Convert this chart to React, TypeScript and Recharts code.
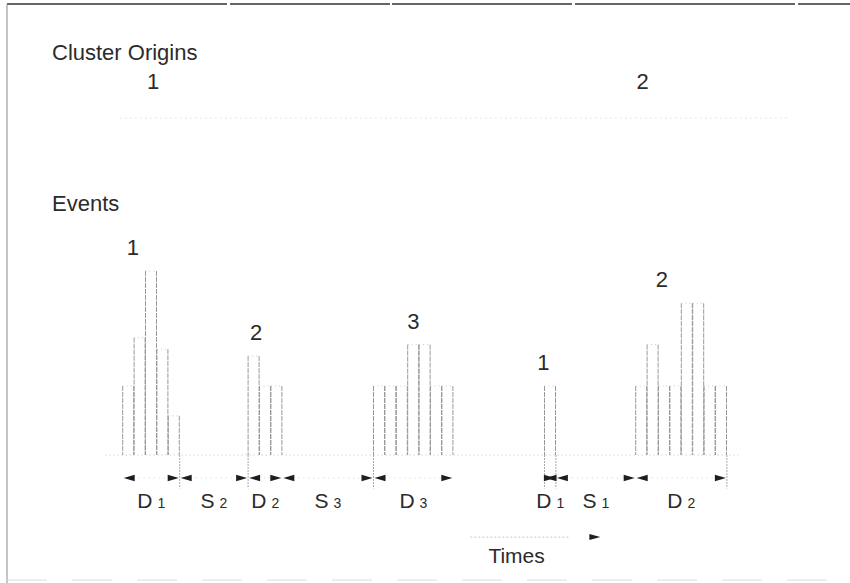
import React from "react";
import { ComposedChart, XAxis, YAxis, Bar, Scatter, ReferenceLine } from "recharts";

// Cluster origins on the upper time line.
const originNames = ["1", "2"];
const originTimes = [2.66, 45.6];

// Event clusters: first time step, height of each step, where the number sits.
const clusterNames = ["1", "2", "3", "1", "2"];
const clusterStarts = [0, 11, 22, 37, 45];
const clusterHeights = [
  [3, 5.1, 8, 4.6, 1.7],
  [4.3, 3, 3],
  [3, 3, 3, 4.8, 4.8, 3, 3],
  [3],
  [3, 4.8, 3, 3, 6.6, 6.6, 3, 3],
];
const clusterLabelTimes = [0.9, 11.7, 25.5, 36.9, 47.3];

// Durations (D) and separations (S).
const spanLetters = ["D", "S", "D", "S", "D", "D", "S", "D"];
const spanSubs = ["1", "2", "2", "3", "3", "1", "1", "2"];
const spanStarts = [0, 5, 11, 14, 22, 37, 38, 45];
const spanEnds = [5, 11, 14, 22, 29, 38, 45, 53];

// Boundaries marked below the event baseline.
const markTimes = [5, 11, 22, 37, 38, 53];

const eventRange = [-1.5, 54];
const originRange = [-0.2, 58.5];
const timeArrow = [30.5, 41.9];

// Layout
const T_MIN = -10;
const T_MAX = 62;
const V_MIN = -5;
const V_MAX = 19;
const ORIGIN_ROW = 14.65;
const SPAN_ROW = -1;
const TIME_ROW = -3.57;
const MARK_DEPTH = -1.45;
const FONT = "'Liberation Sans', Arial, Helvetica, sans-serif";
const INK = "#2b2b2b";

const rows: { slot: string; h: number | null }[] = [];
for (let t = T_MIN; t < T_MAX; t++) {
  let h: number | null = null;
  clusterStarts.forEach((s, i) => {
    const k = t - s;
    if (k >= 0 && k < clusterHeights[i].length) h = clusterHeights[i][k];
  });
  rows.push({ slot: String(t), h });
}

const originPoints = originTimes.map((t, i) => ({ t, y: ORIGIN_ROW, name: originNames[i] }));
const clusterPoints = clusterLabelTimes.map((t, i) => ({
  t,
  y: Math.max(...clusterHeights[i]),
  name: clusterNames[i],
}));

function BinShape(props: any) {
  const { x, y, width, height } = props;
  if (!height || height <= 0) return null;
  return (
    <g>
      <line x1={x} y1={y} x2={x} y2={y + height} stroke="#9a9a9a" strokeDasharray="5 1" />
      <line x1={x + width} y1={y} x2={x + width} y2={y + height} stroke="#9a9a9a" strokeDasharray="5 1" />
      <line x1={x} y1={y} x2={x + width} y2={y} stroke="#c8c8c8" strokeDasharray="1 3" />
    </g>
  );
}

function ClusterLabel(props: any) {
  const { cx, cy, payload } = props;
  return (
    <text x={cx} y={cy - 16} textAnchor="middle" fontSize={22} fontFamily={FONT} fill={INK}>
      {payload.name}
    </text>
  );
}

function OriginLabel(props: any) {
  const { cx, cy, payload } = props;
  return (
    <text x={cx} y={cy - 29} textAnchor="middle" fontSize={22} fontFamily={FONT} fill={INK}>
      {payload.name}
    </text>
  );
}

function spanShape(i: number) {
  return (p: any) => {
    const { x1, x2, y1 } = p;
    const cx = (x1 + x2) / 2;
    return (
      <g>
        <line x1={x1 + 11} y1={y1} x2={x2 - 11} y2={y1} stroke="#d0d0d0" strokeDasharray="1 4" />
        <path d={`M${x1 + 1},${y1} l11,-3.2 v6.4 z`} fill="#1e1e1e" />
        <path d={`M${x2 - 1},${y1} l-11,-3.2 v6.4 z`} fill="#1e1e1e" />
        <text x={cx} y={y1 + 30} textAnchor="middle" fontSize={21} fontFamily={FONT} fill={INK}>
          {spanLetters[i]}
          <tspan fontSize={14} dx={5}>
            {spanSubs[i]}
          </tspan>
        </text>
      </g>
    );
  };
}

function timeShape(p: any) {
  const { x1, x2, y1 } = p;
  return (
    <g>
      <line x1={x1} y1={y1} x2={x2 - 32} y2={y1} stroke="#c4c4c4" strokeDasharray="2 2" />
      <path d={`M${x2},${y1} l-11,-3 v6 z`} fill="#1e1e1e" />
      <text x={x1 + 18} y={y1 + 26} fontSize={21} fontFamily={FONT} fill={INK}>
        Times
      </text>
    </g>
  );
}

export default function App() {
  return (
    <div style={{ position: "absolute", left: 0, top: 0, width: 850, height: 583, background: "#fff" }}>
      <svg width={850} height={583} style={{ position: "absolute", left: 0, top: 0 }}>
        <line x1={7} y1={4} x2={850} y2={4} stroke="#333" strokeWidth={1.5} strokeDasharray="220 3 160 2 180 3" />
        <line x1={7} y1={4} x2={7} y2={583} stroke="#8a8a8a" />
        <line x1={7} y1={580} x2={850} y2={580} stroke="#dcdcdc" strokeDasharray="40 25" />
        <text x={52} y={60} fontSize={22} fontFamily={FONT} fill={INK}>
          Cluster Origins
        </text>
        <text x={52} y={211} fontSize={22} fontFamily={FONT} fill={INK}>
          Events
        </text>
      </svg>
      <div style={{ position: "absolute", left: 0, top: 0 }}>
        <ComposedChart
          width={850}
          height={583}
          data={rows}
          margin={{ top: 18, right: 20.5, bottom: 13, left: 8.7 }}
          barCategoryGap={0}
          barGap={0}
        >
          <XAxis xAxisId="bins" dataKey="slot" type="category" hide />
          <XAxis xAxisId="t" dataKey="t" type="number" domain={[T_MIN, T_MAX]} allowDataOverflow hide />
          <YAxis yAxisId="v" type="number" domain={[V_MIN, V_MAX]} allowDataOverflow hide />

          <ReferenceLine
            xAxisId="t"
            yAxisId="v"
            segment={[{ x: originRange[0], y: ORIGIN_ROW }, { x: originRange[1], y: ORIGIN_ROW }]}
            stroke="#cccccc"
            strokeDasharray="1 4"
          />
          <ReferenceLine
            xAxisId="t"
            yAxisId="v"
            segment={[{ x: eventRange[0], y: 0 }, { x: eventRange[1], y: 0 }]}
            stroke="#bdbdbd"
            strokeDasharray="1 3"
          />

          <Bar
            xAxisId="bins"
            yAxisId="v"
            dataKey="h"
            isAnimationActive={false}
            shape={BinShape}
          />

          {markTimes.map((t) => (
            <ReferenceLine
              key={`m${t}`}
              xAxisId="t"
              yAxisId="v"
              segment={[{ x: t, y: 0 }, { x: t, y: MARK_DEPTH }]}
              stroke="#a8a8a8"
              strokeDasharray="2 1"
            />
          ))}

          {spanStarts.map((s, i) => (
            <ReferenceLine
              key={`s${i}`}
              xAxisId="t"
              yAxisId="v"
              segment={[{ x: s, y: SPAN_ROW }, { x: spanEnds[i], y: SPAN_ROW }]}
              shape={spanShape(i)}
            />
          ))}

          <ReferenceLine
            xAxisId="t"
            yAxisId="v"
            segment={[{ x: timeArrow[0], y: TIME_ROW }, { x: timeArrow[1], y: TIME_ROW }]}
            shape={timeShape}
          />

          <Scatter
            xAxisId="t"
            yAxisId="v"
            data={originPoints}
            dataKey="y"
            isAnimationActive={false}
            shape={OriginLabel}
          />
          <Scatter
            xAxisId="t"
            yAxisId="v"
            data={clusterPoints}
            dataKey="y"
            isAnimationActive={false}
            shape={ClusterLabel}
          />
        </ComposedChart>
      </div>
    </div>
  );
}
